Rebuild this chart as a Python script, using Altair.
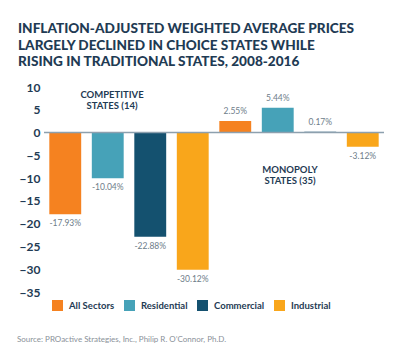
import altair as alt
import pandas as pd

# ---- data ----
groups = ["Competitive States (14)", "Monopoly States (35)"]
sectors = ["All Sectors", "Residential", "Commercial", "Industrial"]
competitive = [-17.93, -10.04, -22.88, -30.12]
monopoly = [2.55, 5.44, 0.17, -3.12]
colors = ["#F58220", "#46A2B8", "#14516F", "#F9A61B"]
y_ticks = [10, 5, 0, -5, -10, -15, -20, -25, -30, -35]

title_lines = [
    "INFLATION-ADJUSTED WEIGHTED AVERAGE PRICES",
    "LARGELY DECLINED IN CHOICE STATES WHILE",
    "RISING IN TRADITIONAL STATES, 2008-2016",
]
source_text = "Source: PROactive Strategies, Inc., Philip R. O\u2019Connor, Ph.D."

rows = []
for g, vals in zip(groups, [competitive, monopoly]):
    for s, v in zip(sectors, vals):
        rows.append({"group": g, "sector": s, "value": v,
                     "label": f"{v:.2f}%", "neg": v < 0})
df = pd.DataFrame(rows)

NAVY = "#1F3B54"
GREY = "#6E7D89"
FONT = "Lato"

x_enc = alt.X("group:N", sort=groups, axis=None,
              scale=alt.Scale(paddingInner=0, paddingOuter=0))
xo_enc = alt.XOffset("sector:N", sort=sectors,
                     scale=alt.Scale(paddingInner=0.25, paddingOuter=0.125))
y_scale = alt.Scale(domain=[-35, 10], nice=False, zero=False)
y_axis = alt.Axis(values=y_ticks, domain=False, ticks=False, grid=False,
                  labelOverlap=False, labelBound=False, labelFlush=False,
                  labelFont=FONT, labelFontWeight="bold", labelFontSize=12,
                  labelColor=NAVY, labelPadding=4)
y_enc = alt.Y("value:Q", scale=y_scale, axis=y_axis, title=None)

base = alt.Chart(df)

bars = base.mark_bar().encode(
    x=x_enc,
    xOffset=xo_enc,
    y=y_enc,
    color=alt.Color("sector:N", sort=sectors,
                    scale=alt.Scale(domain=sectors, range=colors),
                    legend=alt.Legend(title=None, orient="none", direction="horizontal",
                                      columns=4, legendX=8, legendY=213,
                                      symbolType="square", symbolSize=121,
                                      symbolStrokeWidth=0, symbolOpacity=1,
                                      labelFont=FONT, labelFontWeight="bold",
                                      labelFontSize=9.5, labelColor=NAVY,
                                      labelOffset=6, columnPadding=9, padding=0)),
)

neg_labels = base.transform_filter("datum.value < 0").mark_text(
    baseline="top", dy=5, font=FONT, fontSize=8.5, color=GREY
).encode(x=x_enc, xOffset=xo_enc, y=y_enc, text="label:N")

pos_labels = base.transform_filter("datum.value >= 0").mark_text(
    baseline="bottom", dy=-5, font=FONT, fontSize=8.5, color=GREY
).encode(x=x_enc, xOffset=xo_enc, y=y_enc, text="label:N")

zero = alt.Chart(pd.DataFrame({"value": [0]})).mark_rule(
    color="#8DA0AE", strokeWidth=1.5
).encode(y=y_enc)

ann_df = pd.DataFrame({
    "text": [["COMPETITIVE", "STATES (14)"], ["MONOPOLY", "STATES (35)"]],
    "px": [68, 246],
    "py": [8, 83],
})
annotations = alt.Chart(ann_df).mark_text(
    font=FONT, fontWeight="bold", fontSize=9.5, color=NAVY,
    baseline="middle", lineHeight=11
).encode(x=alt.X("px:Q", scale=None), y=alt.Y("py:Q", scale=None), text="text:N")

source = alt.Chart(pd.DataFrame({"t": [source_text]})).mark_text(
    font=FONT, fontSize=8, color="#8A9199", align="left", baseline="middle"
).encode(x=alt.value(-27), y=alt.value(253), text="t:N")

chart = alt.layer(bars, zero, neg_labels, pos_labels, annotations, source).properties(
    width=340, height=205,
    autosize=alt.AutoSizeParams(type="none"),
    padding={"left": 36, "top": 79, "right": 8, "bottom": 63},
    title=alt.TitleParams(title_lines, anchor="start", frame="group", dx=-26, offset=12,
                          font=FONT, fontWeight=900, fontSize=13.6,
                          color=NAVY, lineHeight=16.5),
).configure_view(stroke=None)

chart.save("out.html", embed_options={"renderer": "svg", "actions": False})
